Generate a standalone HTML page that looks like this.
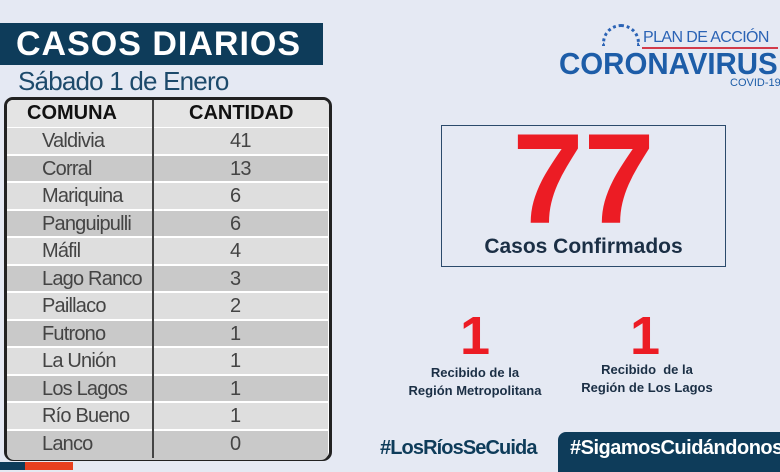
<!DOCTYPE html>
<html><head><meta charset="utf-8"><style>
*{margin:0;padding:0;box-sizing:border-box}
body{width:780px;height:470px;overflow:hidden;background:#e5e9f3;font-family:"Liberation Sans",sans-serif;position:relative}
.a{position:absolute}
.row{position:absolute;left:7px;width:321px;height:26px;font-size:20px;color:#444;letter-spacing:-0.8px}
.row span{position:absolute;top:2px}
</style></head><body>
<div class="a" style="left:0;top:23px;width:323px;height:42px;background:#0e3c5a"></div>
<div class="a" style="left:16px;top:25px;font-size:34px;font-weight:bold;color:#fff;letter-spacing:1px">CASOS DIARIOS</div>
<div class="a" style="left:18px;top:66px;font-size:26px;color:#1d4a6b;letter-spacing:-0.8px">Sábado 1 de Enero</div>
<div class="a" style="left:4px;top:97px;width:328px;height:364px;border:3px solid #222;border-radius:9px;background:#fff;overflow:hidden">
<div class="a" style="left:0;top:0;width:322px;height:27px;background:#e4e4e4"></div>
<div class="a" style="left:20px;top:2px;font-size:20px;font-weight:bold;color:#111">COMUNA</div>
<div class="a" style="left:182px;top:2px;font-size:20px;font-weight:bold;color:#111">CANTIDAD</div>
</div>
<div id="rows"></div>
<div class="a" style="left:152px;top:100px;width:2px;height:358px;background:#444"></div>
<div class="a" style="left:0;top:462px;width:25px;height:8px;background:#0e3c5a"></div>
<div class="a" style="left:25px;top:462px;width:48px;height:8px;background:#e8401f"></div>

<div class="a" style="left:602px;top:24px;width:38px;height:22px;border-radius:20px 20px 0 0;border:3px dotted #2b63b5;border-bottom:none"></div>
<div class="a" style="left:643px;top:29px;font-size:16px;color:#2b63b5;letter-spacing:-0.6px;white-space:nowrap">PLAN DE ACCIÓN</div>
<div class="a" style="left:642px;top:47px;width:136px;height:2px;background:#d23b4a"></div>
<div class="a" style="left:559px;top:46px;font-size:31px;font-weight:bold;color:#1d5da8;transform:scaleX(0.95);transform-origin:0 0;white-space:nowrap">CORONAVIRUS</div>
<div class="a" style="left:730px;top:77px;font-size:11px;color:#1d5da8;white-space:nowrap">COVID-19</div>

<div class="a" style="left:441px;top:125px;width:285px;height:142px;border:1px solid #2b4a6b"></div>
<div class="a" style="left:441px;top:115px;width:285px;text-align:center;font-size:128px;font-weight:bold;color:#ec1c24;line-height:130px">77</div>
<div class="a" style="left:441px;top:235px;width:285px;text-align:center;font-size:21px;font-weight:bold;color:#1b2f45">Casos Confirmados</div>
<div class="a" style="left:415px;top:305px;width:120px;text-align:center;font-size:54px;font-weight:bold;color:#ec1c24">1</div>
<div class="a" style="left:585px;top:305px;width:120px;text-align:center;font-size:54px;font-weight:bold;color:#ec1c24">1</div>
<div class="a" style="left:395px;top:364px;width:160px;text-align:center;font-size:13px;font-weight:bold;color:#1b2f45;line-height:18px">Recibido de la<br>Región Metropolitana</div>
<div class="a" style="left:567px;top:361px;width:160px;text-align:center;font-size:13px;font-weight:bold;color:#1b2f45;line-height:18px">Recibido &nbsp;de la<br>Región de Los Lagos</div>
<div class="a" style="left:380px;top:437px;font-size:20px;font-weight:bold;color:#0e3c5a;letter-spacing:-0.9px">#LosRíosSeCuida</div>
<div class="a" style="left:558px;top:432px;width:240px;height:40px;background:#0e3c5a;border-radius:8px 8px 0 0"></div>
<div class="a" style="left:570px;top:437px;font-size:20px;font-weight:bold;color:#fff;letter-spacing:-0.5px;white-space:nowrap">#SigamosCuidándonos</div>
<script>
var d=[["Valdivia",41],["Corral",13],["Mariquina",6],["Panguipulli",6],["Máfil",4],["Lago Ranco",3],["Paillaco",2],["Futrono",1],["La Unión",1],["Los Lagos",1],["Río Bueno",1],["Lanco",0]];
var h="";d.forEach(function(r,i){var t=128+i*27.5;var bg=i%2?"#c9c9c9":"#dedede";
h+='<div class="row" style="top:'+t+'px;height:'+(i==11?29:25.5)+'px;background:'+bg+(i==11?';border-radius:0 0 7px 7px':'')+'"><span style="left:35px">'+r[0]+'</span><span style="left:223px">'+r[1]+'</span></div>';});
document.getElementById("rows").innerHTML=h;
</script>
</body></html>
